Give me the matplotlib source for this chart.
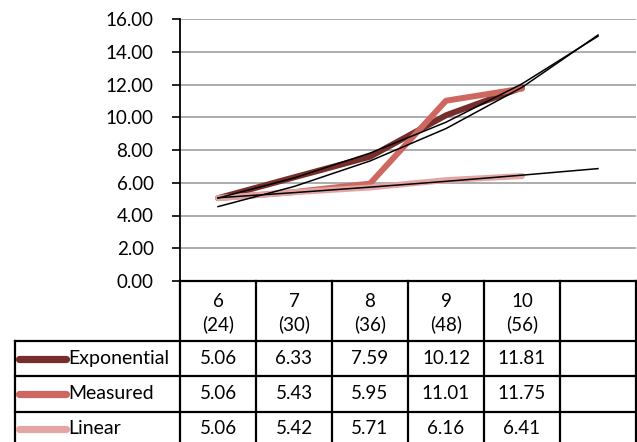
import numpy as np
import matplotlib
matplotlib.use("Agg")
import matplotlib.pyplot as plt

# data
categories = ["6\n(24)", "7\n(30)", "8\n(36)", "9\n(48)", "10\n(56)", ""]
series_names = ["Exponential", "Measured", "Linear"]
exponential = [5.06, 6.33, 7.59, 10.12, 11.81]
measured = [5.06, 5.43, 5.95, 11.01, 11.75]
linear = [5.06, 5.42, 5.71, 6.16, 6.41]
colors = ["#772E2A", "#CE675F", "#E3A6A5"]
yticks = [0, 2, 4, 6, 8, 10, 12, 14, 16]

plt.rcParams['font.family'] = ['Lato', 'DejaVu Sans']
FS = 13.5
W, H = 637, 442
fig = plt.figure(figsize=(W / 100, H / 100), dpi=100)

# pixel geometry of the plot area
px_left, px_right, px_top, px_axis = 180, 636, 19, 281
ax = fig.add_axes([px_left / W, 1 - px_axis / H, (px_right - px_left) / W, (px_axis - px_top) / H])

x = np.arange(1, len(exponential) + 1)
x_all = np.arange(1, len(categories) + 1)
all_series = [exponential, measured, linear]

for vals, c in zip(all_series, colors):
    ax.plot(x, vals, color=c, lw=4.3, solid_capstyle='round', solid_joinstyle='round', zorder=3)

# exponential trendlines fitted to each series, extended to the last category
for vals in all_series:
    b, a = np.polyfit(x, np.log(vals), 1)
    ax.plot(x_all, np.exp(a + b * x_all), color="black", lw=1.1, zorder=4)

ax.set_xlim(0.5, len(categories) + 0.5)
ax.set_ylim(0, 16)
ax.set_yticks(yticks)
ax.set_yticklabels([f"{v:.2f}" for v in yticks], fontsize=FS)
ax.set_xticks([])
ax.yaxis.grid(True, color="#A6A6A6", lw=1.3)
ax.set_axisbelow(True)
for s in ["top", "right"]:
    ax.spines[s].set_visible(False)
ax.spines["left"].set_linewidth(1.3)
ax.spines["bottom"].set_linewidth(1.6)
ax.tick_params(axis="y", length=6, width=1.2, direction="out", pad=13)

# data table underneath, sharing the category scale
tab = fig.add_axes([px_left / W, 0, (px_right - px_left) / W, (H - px_axis) / H])
tab.set_xlim(0.5, len(categories) + 0.5)
tab.set_ylim(H, px_axis)
tab.axis("off")

unit = (px_right - px_left) / len(categories)
label_left = 0.5 - (px_left - 15) / unit
row_edges = [px_axis, 341, 376, 411.5, H + 10]
lw_tab = 1.6

# header cells
for i in range(len(categories) + 1):
    tab.plot([0.5 + i, 0.5 + i], [px_axis, H + 10], color="black", lw=lw_tab, clip_on=False)
for i, cat in enumerate(categories):
    tab.text(x_all[i], 313, cat, ha="center", va="center", fontsize=FS, linespacing=1.35)

# row borders
for r in row_edges[1:4]:
    tab.plot([label_left, len(categories) + 0.5], [r, r], color="black", lw=lw_tab, clip_on=False)
tab.plot([label_left, label_left], [row_edges[1], H + 10], color="black", lw=lw_tab, clip_on=False)

for j, (name, vals, c) in enumerate(zip(series_names, all_series, colors)):
    yc = (row_edges[j + 1] + row_edges[j + 2]) / 2
    if j == 2:
        yc = row_edges[3] + 17
    tab.plot([label_left + 4 / unit, label_left + 51 / unit], [yc, yc], color=c, lw=5.2,
             solid_capstyle='round', clip_on=False)
    tab.text(label_left + 53 / unit, yc, name, ha="left", va="center", fontsize=14, clip_on=False)
    for i, v in enumerate(vals):
        tab.text(x[i], yc, f"{v:.2f}", ha="center", va="center", fontsize=FS)

fig.savefig("out.png", dpi=100)
